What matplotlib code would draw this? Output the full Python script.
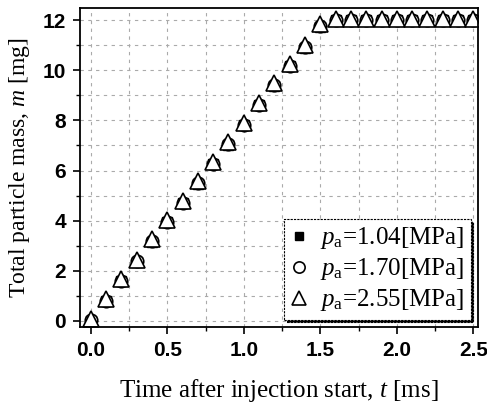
import numpy as np
from matplotlib import pyplot as plt
from matplotlib.ticker import MultipleLocator

t = [0.0, 0.1, 0.2, 0.3, 0.4, 0.5, 0.6, 0.7, 0.8, 0.9, 1.0, 1.1, 1.2, 1.3,
     1.4, 1.5, 1.6, 1.7, 1.8, 1.9, 2.0, 2.1, 2.2, 2.3, 2.4, 2.5]
m_104 = [0.0, 0.78, 1.58, 2.36, 3.15, 3.93, 4.7, 5.48, 6.25, 7.02, 7.8, 8.6,
         9.38, 10.15, 10.9, 11.72, 12.0, 12.0, 12.0, 12.0, 12.0, 12.0, 12.0,
         12.0, 12.0, 12.0]
m_170 = [0.02, 0.8, 1.6, 2.38, 3.18, 3.95, 4.72, 5.5, 6.27, 7.05, 7.83, 8.62,
         9.4, 10.18, 10.93, 11.75, 12.0, 12.0, 12.0, 12.0, 12.0, 12.0, 12.0,
         12.0, 12.0, 12.0]
m_255 = [0.08, 0.87, 1.67, 2.45, 3.25, 4.02, 4.8, 5.57, 6.35, 7.12, 7.9, 8.7,
         9.48, 10.25, 11.0, 11.85, 12.05, 12.05, 12.05, 12.05, 12.05, 12.05,
         12.05, 12.05, 12.05, 12.05]
labels = ['$p_{\\rm a}$=1.04[MPa]', '$p_{\\rm a}$=1.70[MPa]', '$p_{\\rm a}$=2.55[MPa]']

plt.rcParams['mathtext.fontset'] = 'custom'
plt.rcParams['mathtext.it'] = 'Liberation Serif:italic'
plt.rcParams['mathtext.rm'] = 'Liberation Serif'

fig = plt.figure(figsize=(4.87, 4.09), dpi=100)
ax = fig.add_axes([80 / 487, 82 / 409, 398 / 487, 319 / 409])

ax.plot(t, m_104, ls='none', marker='s', ms=7, mfc='black', mec='black', label=labels[0])
ax.plot(t, m_170, ls='none', marker='o', ms=9, mfc='white', mec='black', mew=1.2, label=labels[1])
ax.plot(t, m_255, ls='none', marker='^', ms=11, mfc='white', mec='black', mew=1.2, label=labels[2])

ax.set_xlim(-0.07, 2.53)
ax.set_ylim(-0.24, 12.48)
ax.xaxis.set_major_locator(MultipleLocator(0.5))
ax.xaxis.set_minor_locator(MultipleLocator(0.25))
ax.yaxis.set_major_locator(MultipleLocator(2))
ax.yaxis.set_minor_locator(MultipleLocator(1))
ax.xaxis.set_major_formatter(plt.FormatStrFormatter('%.1f'))
ax.grid(which='both', ls=(0, (3, 4)), color='#aaaaaa', lw=0.8)
ax.tick_params(which='major', direction='out', length=5, width=1.2,
               labelsize=15, pad=5)
ax.tick_params(which='minor', direction='out', length=3, width=1)
for lab in ax.get_xticklabels() + ax.get_yticklabels():
    lab.set_family('Liberation Sans')
    lab.set_weight('bold')
for s in ax.spines.values():
    s.set_linewidth(1.3)

ax.set_xlabel('Time after injection start, $t$ [ms]', family='Liberation Serif',
              fontsize=18, labelpad=12)
ax.set_ylabel('Total particle mass, $m$ [mg]', family='Liberation Serif',
              fontsize=17, labelpad=8)

leg = ax.legend(loc='lower right', prop={'family': 'Liberation Serif', 'size': 18},
                frameon=True, fancybox=False, shadow={'color': 'black', 'alpha': 1},
                handlelength=0.7, handletextpad=0.5, borderpad=0.25, markerscale=0.9,
                labelspacing=0.2, borderaxespad=0.3)
leg.get_frame().set_edgecolor('black')
leg.get_frame().set_linewidth(0.8)
leg.get_frame().set_linestyle((0, (2, 1)))

fig.savefig('out.png', dpi=100)
